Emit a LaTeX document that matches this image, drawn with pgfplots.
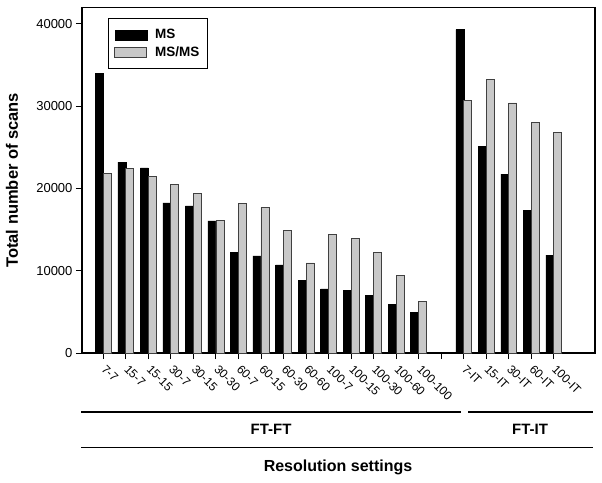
\documentclass[border=0pt]{standalone}
\usepackage{fontspec}
\setmainfont{Liberation Sans}
\usepackage{pgfplots}
\pgfplotsset{compat=1.18}
\definecolor{msgray}{RGB}{200,200,200}

\begin{document}
\begin{tikzpicture}
\path[use as bounding box] (-82pt,-129pt) rectangle (520pt,353pt);
\begin{axis}[
    scale only axis,
    width=513pt, height=345.5pt,
    ybar=0pt, bar width=8pt,
    xmin=-0.945, xmax=21.825,
    ymin=0, ymax=42000,
    ytick={0,10000,20000,30000,40000},
    scaled y ticks=false,
    /pgf/number format/1000 sep={},
    /pgf/number format/assume math mode=true,
    xtick={0,...,20},
    xticklabels={7-7,15-7,15-15,30-7,30-15,30-30,60-7,60-15,60-30,60-60,100-7,100-15,100-30,100-60,100-100,,7-IT,15-IT,30-IT,60-IT,100-IT},
    xticklabel style={rotate=-45, anchor=north west, font=\fontsize{12}{14}\selectfont, inner sep=1pt, xshift=5pt},
    yticklabel style={font=\fontsize{13}{15}\selectfont},
    tick align=outside, tick pos=left,
    major tick length=6pt,
    every tick/.style={black, line width=0.9pt},
    axis line style={line width=1.6pt},
    ylabel={Total number of scans},
    ylabel style={at={(axis description cs:-0.1365,0.5)}, anchor=center, font=\bfseries\fontsize{16.5}{19}\selectfont},
    legend style={at={(0.0507,0.9696)}, anchor=north west, draw=black, line width=0.8pt,
        fill=white, font=\bfseries\fontsize{13.5}{16}\selectfont,
        inner xsep=6pt, inner ysep=9pt, row sep=2pt, column sep=6pt, legend cell align=left},
]
\addplot[fill=black, draw=black, line width=0.5pt,
    legend image code/.code={\draw[fill=black,draw=black] (0pt,-5pt) rectangle (32pt,5pt);}] coordinates {
    (0,34000) (1,23200) (2,22500) (3,18250) (4,17900) (5,16050)
    (6,12200) (7,11800) (8,10700) (9,8850) (10,7800) (11,7600)
    (12,7000) (13,5900) (14,4900)
    (16,39300) (17,25100) (18,21750) (19,17300) (20,11900)
};
\addlegendentry{MS}
\addplot[fill=msgray, draw=black!75, line width=0.8pt,
    legend image code/.code={\draw[fill=msgray,draw=black!75,line width=0.8pt] (0pt,-5pt) rectangle (32pt,5pt);}] coordinates {
    (0,21850) (1,22450) (2,21500) (3,20500) (4,19350) (5,16150)
    (6,18200) (7,17700) (8,14950) (9,10950) (10,14450) (11,13950)
    (12,12250) (13,9450) (14,6250)
    (16,30650) (17,33200) (18,30400) (19,28000) (20,26800)
};
\addlegendentry{MS/MS}
\end{axis}
\draw[line width=1.6pt] (-1pt,-58.7pt) -- (379pt,-58.7pt);
\draw[line width=1.6pt] (386pt,-58.7pt) -- (510.7pt,-58.7pt);
\draw[line width=1.6pt] (-1pt,-94.3pt) -- (510.7pt,-94.3pt);
\node[font=\bfseries\fontsize{15}{18}\selectfont] at (189pt,-76pt) {FT-FT};
\node[font=\bfseries\fontsize{15}{18}\selectfont] at (448pt,-76pt) {FT-IT};
\node[font=\bfseries\fontsize{16}{19}\selectfont] at (256pt,-114pt) {Resolution settings};
\end{tikzpicture}
\end{document}
